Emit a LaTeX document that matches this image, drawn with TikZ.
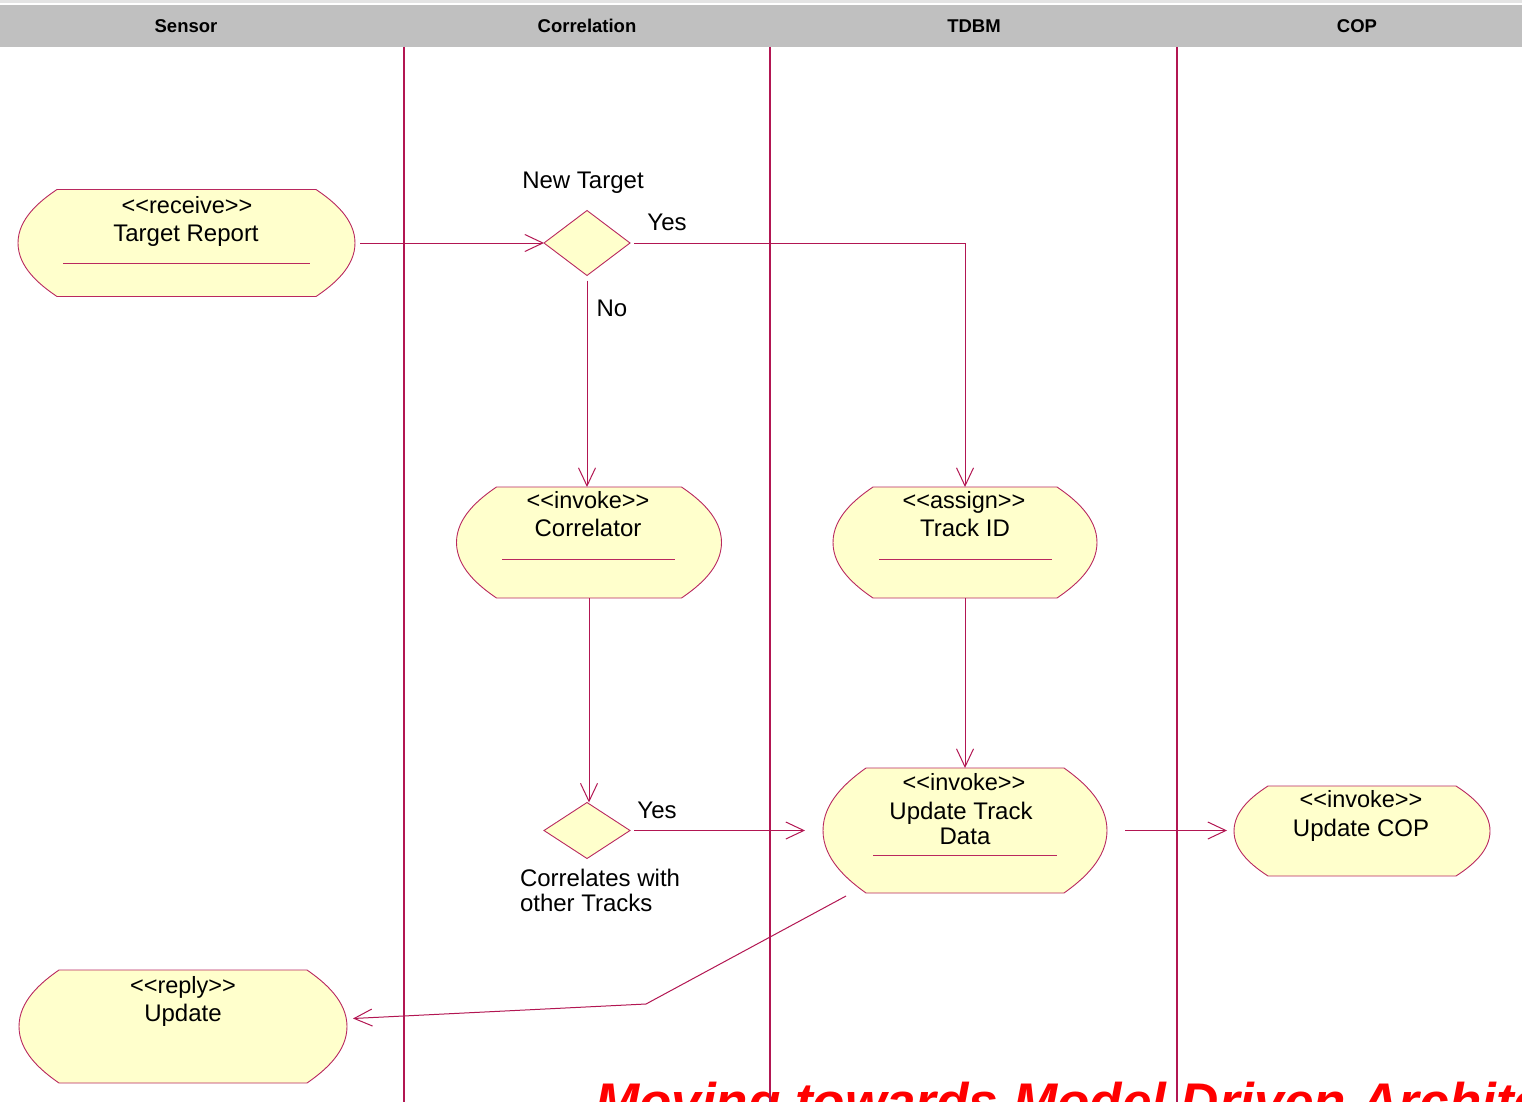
\documentclass[tikz,border=0pt]{standalone}
\usepackage{fontspec}
\setmainfont{Liberation Sans}
\usetikzlibrary{arrows.meta,calc,shapes.geometric}

\definecolor{lanered}{RGB}{178,22,82}
\definecolor{edgered}{RGB}{185,40,95}
\definecolor{actfill}{RGB}{255,255,204}
\definecolor{headgray}{RGB}{192,192,192}
\definecolor{topgray}{RGB}{228,228,228}
\definecolor{titlered}{RGB}{255,0,0}

\pgfdeclarelayer{back}
\pgfsetlayers{back,main}

% Stereotype brackets written as doubled angle signs (kerns keep them apart)
\newcommand\stt[1]{<\kern0pt<#1>\kern0pt>}

% Outline of an activity state: flat top and bottom, bulging ends.
% #1 node name, #2 depth of the end bulge, #3 half the height
\newcommand\actoutline[3]{%
  \draw[outline, fill=actfill]
    ($(#1.north west)+(#2,0)$)
    -- ($(#1.north east)+(-#2,0)$)
    .. controls +(0.45*#2,0.22*#3) and +(0,-0.45*#3) .. (#1.east)
    .. controls +(0,0.45*#3) and +(0.45*#2,-0.22*#3) .. ($(#1.south east)+(-#2,0)$)
    -- ($(#1.south west)+(#2,0)$)
    .. controls +(-0.45*#2,-0.22*#3) and +(0,0.45*#3) .. (#1.west)
    .. controls +(0,-0.45*#3) and +(-0.45*#2,0.22*#3) .. ($(#1.north west)+(#2,0)$)
    -- cycle;}

\begin{document}
\begin{tikzpicture}[x=1pt,y=-1pt,
  every node/.style={inner sep=0pt,outer sep=0pt},
  hdr/.style={font=\fontsize{18.5}{20}\selectfont\bfseries},
  txt/.style={font=\fontsize{24}{28}\selectfont,anchor=base},
  stereo/.style={font=\fontsize{23.5}{26}\selectfont,anchor=base},
  label/.style={font=\fontsize{24}{28}\selectfont,anchor=base},
  actarea/.style={rectangle,draw=none},
  outline/.style={draw=edgered,line width=0.9pt},
  lane/.style={draw=lanered,line width=1.4pt},
  choice/.style={diamond,draw=edgered,line width=0.9pt,fill=actfill},
  flow/.style={draw=lanered,line width=1pt},
  arrow/.style={flow,-{Straight Barb[length=18pt,width=17pt,line width=1pt]}},
]
\useasboundingbox (0,0) rectangle (1522,1102);

% ---- activity area nodes ----
\node[actarea,minimum width=337pt,minimum height=107pt] (report) at (186.5,243) {};
\node[actarea,minimum width=265pt,minimum height=111pt] (corr)   at (589,542.5) {};
\node[actarea,minimum width=264pt,minimum height=111pt] (track)  at (965,542.5) {};
\node[actarea,minimum width=284pt,minimum height=125pt] (upd)    at (965,830.5) {};
\node[actarea,minimum width=256pt,minimum height=90pt]  (cop)    at (1362,831) {};
\node[actarea,minimum width=328pt,minimum height=113pt] (reply)  at (183,1026.5) {};

% ---- decisions ----
\node[choice,minimum width=86pt,minimum height=65pt] (d1) at (587,243) {};
\node[choice,minimum width=86pt,minimum height=56pt] (d2) at (587,830.5) {};

\begin{pgfonlayer}{back}
  % title text behind the swimlanes
  \begin{scope}
    \clip (0,0) rectangle (1522,1102);
    \node[anchor=base west,font=\fontsize{53}{60}\selectfont\bfseries\itshape,
          text=titlered] (title) at (595,1120) {Moving towards Model Driven Architecture};
  \end{scope}
  % header band
  \fill[topgray] (0,0) rectangle (1522,3.5);
  \fill[headgray] (0,5) rectangle (1522,47);
  % swimlane separators
  \draw[lane] (404,47) -- (404,1102);
  \draw[lane] (770,47) -- (770,1102);
  \draw[lane] (1177,47) -- (1177,1102);
  % activity outlines
  \actoutline{report}{39}{53.5}
  \actoutline{corr}{40}{55.5}
  \actoutline{track}{40}{55.5}
  \actoutline{upd}{43}{62.5}
  \actoutline{cop}{34}{45}
  \actoutline{reply}{40}{56.5}
\end{pgfonlayer}

% ---- lane headers ----
\node[hdr] (hSensor) at (186,26) {Sensor};
\node[hdr] (hCorr)   at (587,26) {Correlation};
\node[hdr] (hTdbm)   at (974,26) {TDBM};
\node[hdr] (hCop)    at (1357,26) {COP};

% ---- activity texts and compartment lines ----
\node[stereo] (reportS) at (187,213) {\stt{receive}};
\node[txt]    (reportN) at (186,241.5) {Target Report};
\draw[outline] (63,263) -- (310,263);

\node[stereo] (corrS) at (588,508) {\stt{invoke}};
\node[txt]    (corrN) at (588,536) {Correlator};
\draw[outline] (502,559) -- (675,559);

\node[stereo] (trackS) at (964,508) {\stt{assign}};
\node[txt]    (trackN) at (965,536) {Track ID};
\draw[outline] (879,559) -- (1052,559);

\node[stereo] (updS)  at (964,790) {\stt{invoke}};
\node[txt]    (updN1) at (961,819) {Update Track};
\node[txt]    (updN2) at (965,844) {Data};
\draw[outline] (873,855) -- (1057,855);

\node[stereo] (copS) at (1361,807) {\stt{invoke}};
\node[txt]    (copN) at (1361,836) {Update COP};

\node[stereo] (replyS) at (183,993) {\stt{reply}};
\node[txt]    (replyN) at (183,1021) {Update};

% ---- decision labels ----
\node[label] (newTarget) at (583,188.5) {New Target};
\node[label] (yes1) at (667,230.5) {Yes};
\node[label] (no1)  at (612,316.5) {No};
\node[label] (yes2) at (657,818.5) {Yes};
\node[label,anchor=base west] (corrLbl1) at (520,886.5) {Correlates with};
\node[label,anchor=base west] (corrLbl2) at (520,911.5) {other Tracks};

% ---- control flows ----
\coordinate (bend) at (646,1004);
\draw[arrow,shorten <=5pt] (report.east) -- (d1.west);
\draw[arrow,shorten <=4pt] (d1.east) -| (track.north);
\draw[arrow,shorten <=5pt] (d1.south) -- (d1.south |- corr.north);
\draw[arrow] (corr.south) -- (corr.south |- d2.north);
\draw[arrow,shorten <=4pt,shorten >=18pt] (d2.east) -- (d2.east -| upd.west);
\draw[arrow] (track.south) -- (upd.north);
\draw[arrow,shorten <=18pt,shorten >=7pt] (upd.east) -- (upd.east -| cop.west);
\draw[arrow] ($(upd.south west)+(23,3)$) -- (bend) -- ($(reply.east)+(6,-8)$);
\end{tikzpicture}
\end{document}
